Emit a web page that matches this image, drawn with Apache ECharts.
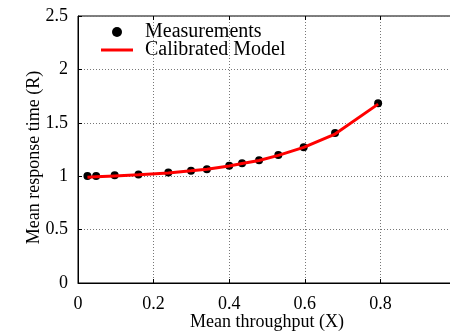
<!DOCTYPE html>
<html><head><meta charset="utf-8">
<script src="https://cdn.jsdelivr.net/npm/echarts@6/dist/echarts.min.js"></script>
<style>html,body{margin:0;padding:0;background:#fff}#c{width:450px;height:331px}</style>
</head><body><div id="c"></div>
<script>
var throughput = [0.025, 0.048, 0.097, 0.160, 0.239, 0.299, 0.341, 0.400, 0.434, 0.479, 0.530, 0.597, 0.680, 0.794];
var measured   = [1.002, 1.002, 1.010, 1.015, 1.034, 1.052, 1.066, 1.098, 1.122, 1.149, 1.199, 1.272, 1.405, 1.682];
var model      = [0.990, 0.995, 1.003, 1.013, 1.030, 1.050, 1.065, 1.095, 1.118, 1.147, 1.195, 1.270, 1.395, 1.675];
var xTicks = [0, 0.2, 0.4, 0.6, 0.8, 1];
var yTicks = [0, 0.5, 1, 1.5, 2, 2.5];

var font = 'Liberation Serif';
var chart = echarts.init(document.getElementById('c'), null, {renderer: 'canvas'});
function pairs(xs, ys){ return xs.map(function(x,i){ return [x, ys[i]]; }); }
var gridLine = {show: true, lineStyle: {color: '#777', type: [1, 2], width: 1}};
chart.setOption({
  animation: false,
  backgroundColor: '#fff',
  grid: {left: 78, right: -6, top: 16, bottom: 48, outerBoundsMode: 'none', containLabel: false,
    show: true, borderColor: '#000', borderWidth: 1, backgroundColor: 'transparent'},
  legend: {
    orient: 'vertical', left: 96, top: 17, itemWidth: 32, itemHeight: 10, itemGap: -2,
    textStyle: {fontFamily: font, fontSize: 20, color: '#000', lineHeight: 16, padding: [0, 0, 0, 7]},
    data: [
      {name: 'Measurements', icon: 'circle', itemStyle: {color: '#000', opacity: 1}},
      {name: 'Calibrated Model', icon: 'path://M0,0L32,0L32,3L0,3Z', itemStyle: {color: '#ff0000', borderWidth: 0}}
    ]
  },
  xAxis: [{
    type: 'value', min: xTicks[0], max: xTicks[xTicks.length-1], interval: 0.2,
    name: 'Mean throughput (X)', nameLocation: 'middle', nameGap: 30, nameMoveOverlap: false,
    nameTextStyle: {fontFamily: font, fontSize: 18, color: '#000'},
    axisLine: {show: true, lineStyle: {color: '#000', width: 1}},
    axisTick: {show: true, inside: true, length: 4, lineStyle: {color: '#000'}},
    axisLabel: {fontFamily: font, fontSize: 18, color: '#000', margin: 12,
      formatter: function(v){ return v >= 1 ? '' : String(Math.round(v*10)/10); }},
    splitLine: gridLine
  }, {
    type: 'value', position: 'top', min: 0, max: 1, interval: 0.2,
    axisLine: {show: false}, axisLabel: {show: false}, splitLine: {show: false},
    axisTick: {show: true, inside: true, length: 4, lineStyle: {color: '#000'}}
  }],
  yAxis: {
    type: 'value', min: yTicks[0], max: yTicks[yTicks.length-1], interval: 0.5,
    name: 'Mean response time (R)', nameLocation: 'middle', nameGap: 35, nameMoveOverlap: false,
    nameTextStyle: {fontFamily: font, fontSize: 18, color: '#000', padding: [0, 16, 0, 0]},
    axisLine: {show: true, lineStyle: {color: '#000', width: 1}},
    axisTick: {show: true, inside: true, length: 4, lineStyle: {color: '#000'}},
    axisLabel: {fontFamily: font, fontSize: 18, color: '#000', margin: 10},
    splitLine: gridLine
  },
  series: [{
    name: 'Measurements', type: 'scatter', symbol: 'circle', symbolSize: 8,
    itemStyle: {color: '#000', opacity: 1}, data: pairs(throughput, measured), z: 2
  }, {
    name: 'Calibrated Model', type: 'line', symbol: 'none', showSymbol: false,
    lineStyle: {color: '#ff0000', width: 3}, itemStyle: {color: '#ff0000'},
    data: pairs(throughput, model), z: 3
  }]
});
</script></body></html>
